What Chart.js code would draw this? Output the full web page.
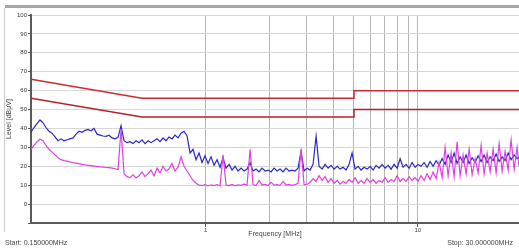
<!DOCTYPE html>
<html>
<head>
<meta charset="utf-8">
<script src="https://cdn.jsdelivr.net/npm/chart.js@4.4.0/dist/chart.umd.min.js"></script>
<style>
	html, body { margin: 0; padding: 0; background: #fff; }
	#wrap { position: relative; width: 519px; height: 248px; overflow: hidden; }
	#topbar { position: absolute; left: 5px; top: 5px; width: 514px; height: 3px; background: #a6a6a6; }
	#frame { position: absolute; left: 4px; top: 8px; width: 1px; height: 224px; background: #cfcfcf; }
	canvas { position: absolute; left: 0; top: 0; }
</style>
</head>
<body>
<div id="wrap">
	<div id="topbar"></div>
	<div id="frame"></div>
	<canvas id="graph" width="519" height="248"></canvas>
</div>
<script>
"use strict";

// scan frequencies (MHz)
const freqMHz = [
	0.1500, 0.1550, 0.1601, 0.1654, 0.1709, 0.1765, 0.1824, 0.1884, 0.1947, 0.2011,
	0.2078, 0.2147, 0.2218, 0.2291, 0.2367, 0.2446, 0.2527, 0.2610, 0.2697, 0.2786,
	0.2878, 0.2974, 0.3072, 0.3174, 0.3279, 0.3388, 0.3500, 0.3616, 0.3735, 0.3859,
	0.3987, 0.4119, 0.4255, 0.4396, 0.4542, 0.4692, 0.4847, 0.5008, 0.5174, 0.5345,
	0.5522, 0.5705, 0.5894, 0.6089, 0.6291, 0.6499, 0.6714, 0.6937, 0.7166, 0.7404,
	0.7649, 0.7902, 0.8164, 0.8434, 0.8713, 0.9002, 0.9300, 0.9608, 0.9926, 1.0255,
	1.0594, 1.0945, 1.1308, 1.1682, 1.2069, 1.2469, 1.2882, 1.3308, 1.3749, 1.4204,
	1.4675, 1.5161, 1.5663, 1.6181, 1.6717, 1.7271, 1.7843, 1.8434, 1.9044, 1.9675,
	2.0326, 2.1000, 2.1695, 2.2413, 2.3156, 2.3923, 2.4715, 2.5533, 2.6379, 2.7252,
	2.8155, 2.9087, 3.0050, 3.1045, 3.2074, 3.3136, 3.4233, 3.5367, 3.6538, 3.7748,
	3.8998, 4.0290, 4.1624, 4.3002, 4.4426, 4.5898, 4.7418, 4.8988, 5.0610, 5.2286,
	5.4018, 5.5807, 5.7655, 5.9564, 6.1537, 6.3575, 6.5680, 6.7855, 7.0102, 7.2424,
	7.4822, 7.7300, 7.9860, 8.2504, 8.5236, 8.8059, 9.0975, 9.3988, 9.7100, 10.032,
	10.364, 10.707, 11.062, 11.428, 11.807, 12.198, 12.602, 13.019, 13.450, 13.896,
	14.356, 14.831, 15.322, 15.830, 16.354, 16.895, 17.455, 18.033, 18.630, 19.247,
	19.884, 20.543, 21.223, 21.926, 22.652, 23.402, 24.177, 24.978, 25.805, 26.660,
	27.543, 28.455, 29.397, 30.000,
];

// peak trace (blue), dBuV
const peakDb = [
	38, 40.5, 42.5, 44.5, 43, 40.5, 38.5, 37.5, 35.5, 33.5,
	34.5, 33.5, 34, 34.5, 35, 37, 38.5, 38, 39, 39.5,
	38.8, 40, 37, 36.5, 36, 35.8, 36.4, 35, 34.5, 35.3,
	41.5, 33.5, 32.5, 33, 32, 33.5, 32.5, 34, 32, 33.5,
	32.5, 33.5, 34.5, 33, 35, 33.5, 35.5, 34.5, 36.5, 35,
	37.5, 38.5, 36, 27, 29, 23.5, 27, 22, 25.5, 21.5,
	25, 20.5, 23.5, 19.5, 24.5, 19, 21, 18, 20, 17.5,
	19, 17.5, 18.5, 22, 17.5, 18.5, 17, 19, 17.5, 18,
	17, 19, 17.5, 18.5, 17, 19, 17.5, 18, 17.5, 19,
	28, 17.5, 19, 18, 21, 36, 20, 18.5, 21, 19,
	20.5, 18.5, 20, 18.5, 19.5, 18, 21, 27, 18.5, 20,
	18, 19.5, 18.5, 20, 18, 20.5, 19, 21, 19, 20.5,
	18.5, 21, 19, 24, 19.5, 21, 19, 22, 19.5, 21,
	20, 22, 19.5, 22.5, 20, 23, 20.5, 24, 21, 26,
	22, 27, 21.5, 25, 22, 26, 21.5, 24.5, 22, 25.5,
	22.5, 26, 22, 25, 23, 26.5, 22.5, 25, 23, 27,
	23.5, 26, 24, 25,
];

// average trace (magenta), dBuV
const avgDb = [
	29, 31, 33, 34.3, 33.5, 31, 29, 27.5, 26, 24.5,
	23.5, 23, 22.7, 22.3, 22, 21.7, 21.4, 21, 20.7, 20.5,
	20.3, 20.1, 19.9, 19.7, 19.6, 19.4, 19.3, 19, 18.7, 18.3,
	39.5, 16, 14.5, 14, 15.5, 13.8, 15, 17, 14.5, 16,
	18, 15, 19, 16.5, 20, 17.5, 18.5, 21.5, 17.5, 19.5,
	25, 20, 17.5, 15, 12.5, 11, 10, 9.8, 10.3, 9.6,
	10.2, 9.8, 10.3, 9.7, 26, 10, 9.8, 10.4, 9.7, 10.2,
	9.9, 10.5, 10, 29, 10.2, 9.8, 12.5, 10, 10.4, 9.8,
	11.5, 10, 10.3, 9.9, 12, 10.1, 10.4, 9.9, 10.3, 11,
	29, 10.2, 10.5, 11.5, 13.5, 12, 15, 12.5, 14.5, 11.5,
	13.5, 11, 12.5, 10.5, 12, 11, 13, 11.5, 14, 11,
	12.5, 11, 13.5, 11.5, 13, 11, 12.5, 11.5, 14, 11.5,
	13, 12, 15, 12, 13.5, 12, 14.5, 12.5, 14, 12,
	15, 12.5, 16, 13, 17, 13.5, 22, 14, 30, 15,
	27, 14.5, 33, 15, 26, 16, 29, 15.5, 24, 16.5,
	31, 16, 27, 17, 29, 16.5, 32, 17.5, 28, 18,
	34, 18.5, 30, 20,
];

// limit lines (CISPR-style), frequency / level pairs
const limitFreq = [0.15, 0.5, 5, 5, 30];
const upperLimitDb = [66, 56, 56, 60, 60];
const lowerLimitDb = [56, 46, 46, 50, 50];

const xTickValues = [1, 2, 3, 4, 5, 6, 7, 8, 9, 10];
const xLabelled = [1, 10];

const startLabel = "Start: 0.150000MHz";
const stopLabel = "Stop: 30.000000MHz";

const pairs = (xs, ys) => xs.map((x, i) => ({ x, y: ys[i] }));

const footer = {
	id: "footer",
	afterDraw(chart) {
		const ctx = chart.ctx;
		ctx.save();
		ctx.fillStyle = "#444";
		ctx.font = '7px "Liberation Sans", Arial, sans-serif';
		ctx.textBaseline = "middle";
		ctx.textAlign = "left";
		ctx.fillText(startLabel, 5, 243);
		ctx.textAlign = "right";
		ctx.fillText(stopLabel, 513, 243);
		ctx.restore();
	},
};

const line = (data, color, width) => ({
	data,
	borderColor: color,
	backgroundColor: color,
	borderWidth: width,
	pointRadius: 0,
	tension: 0,
	fill: false,
});

new Chart(document.querySelector("#graph").getContext("2d"), {
	type: "line",
	data: {
		datasets: [
			line(pairs(freqMHz, avgDb), "#e040e0", 1.2),
			line(pairs(freqMHz, peakDb), "#2828c8", 1.2),
			line(pairs(limitFreq, upperLimitDb), "#cc2a30", 1.5),
			line(pairs(limitFreq, lowerLimitDb), "#b82028", 1.5),
		],
	},
	options: {
		responsive: false,
		animation: false,
		layout: { padding: { top: 15, left: 0, right: 0, bottom: 0 } },
		plugins: { legend: { display: false }, tooltip: { enabled: false } },
		scales: {
			x: {
				type: "logarithmic",
				min: 0.15,
				max: 30,
				afterBuildTicks(scale) {
					scale.ticks = xTickValues.map((value) => ({ value }));
				},
				afterFit(scale) {
					scale.height = 25;
				},
				ticks: {
					autoSkip: false,
					maxRotation: 0,
					padding: 0,
					color: "#444",
					font: { size: 6, family: '"Liberation Sans", Arial, sans-serif' },
					callback: (v) => (xLabelled.includes(v) ? String(v) : ""),
				},
				grid: {
					color: "#b4b4b4",
					lineWidth: 1,
					tickLength: 4,
					tickColor: (c) => (c.tick && xLabelled.includes(c.tick.value) ? "#555" : "rgba(0,0,0,0)"),
				},
				border: { display: true, color: "#5a5a5a", width: 2 },
				title: {
					display: true,
					text: "Frequency [MHz]",
					color: "#444",
					font: { size: 7, family: '"Liberation Sans", Arial, sans-serif' },
					padding: { top: 0, bottom: 10 },
				},
			},
			y: {
				min: -10,
				max: 100,
				afterFit(scale) {
					scale.width = 31;
				},
				ticks: {
					stepSize: 10,
					padding: 1,
					color: "#333",
					font: { size: 6, family: '"Liberation Sans", Arial, sans-serif' },
					callback: (v) => (v === -10 ? "" : String(v)),
				},
				grid: {
					color: "#d6d6d6",
					lineWidth: 1,
					tickLength: 3,
					tickColor: "#555",
				},
				border: { display: true, color: "#5a5a5a", width: 2 },
				title: {
					display: true,
					text: "Level [dBμV]",
					color: "#444",
					font: { size: 7, family: '"Liberation Sans", Arial, sans-serif' },
					padding: { top: 5, bottom: 0 },
				},
			},
		},
	},
	plugins: [footer],
});
</script>
</body>
</html>
